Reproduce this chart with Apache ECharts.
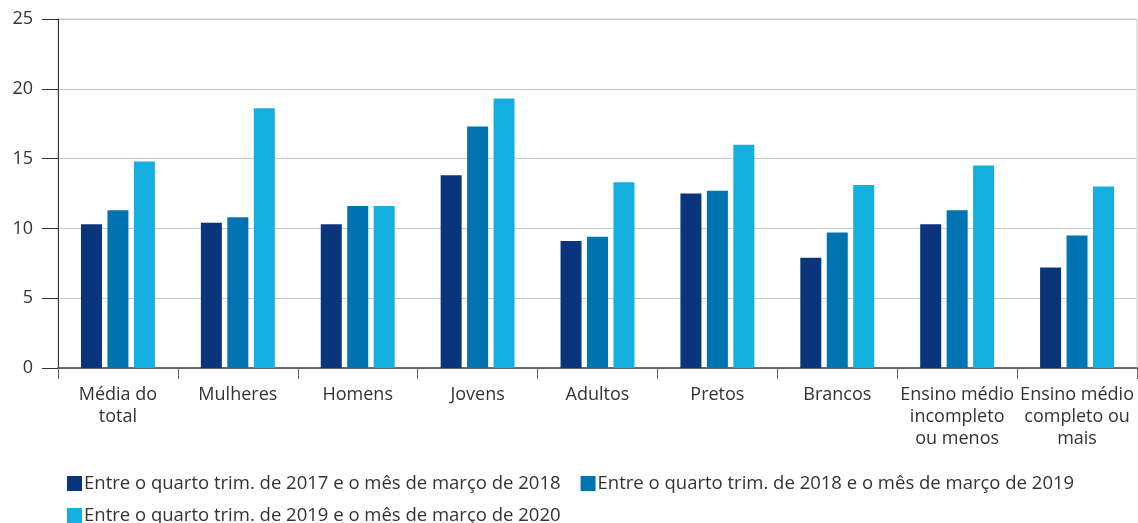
<!DOCTYPE html>
<html>
<head>
<meta charset="utf-8">
<script src="https://cdn.jsdelivr.net/npm/echarts@6/dist/echarts.min.js"></script>
<style>
html,body{margin:0;padding:0;background:#fff;}
#chart{width:1138px;height:523px;}
</style>
</head>
<body>
<div id="chart"></div>
<script>
const categories = ["Média do\ntotal", "Mulheres", "Homens", "Jovens", "Adultos", "Pretos", "Brancos", "Ensino médio\nincompleto\nou menos", "Ensino médio\ncompleto ou\nmais"];
const seriesNames = [
  "Entre o quarto trim. de 2017 e o mês de março de 2018",
  "Entre o quarto trim. de 2018 e o mês de março de 2019",
  "Entre o quarto trim. de 2019 e o mês de março de 2020"
];
const values2018 = [10.3, 10.4, 10.3, 13.8, 9.1, 12.5, 7.9, 10.3, 7.2];
const values2019 = [11.3, 10.8, 11.6, 17.3, 9.4, 12.7, 9.7, 11.3, 9.5];
const values2020 = [14.8, 18.6, 11.6, 19.3, 13.3, 16.0, 13.1, 14.5, 13.0];
const colors = ["#0a357c", "#0074b0", "#13afdf"];

const FONT = "Open Sans";
const FS = 18;
const chart = echarts.init(document.getElementById('chart'), null, {renderer: 'canvas'});
const dataSets = [values2018, values2019, values2020];
const legendBase = {
  left: 67, padding: 0,
  itemWidth: 15, itemHeight: 15, itemGap: 20,
  icon: 'rect',
  textStyle: {fontFamily: FONT, fontSize: 18.5, color: '#333', padding: [0, 0, 0, -3]}
};
chart.setOption({
  animation: false,
  textStyle: {fontFamily: FONT},
  grid: {left: 58, right: 1, top: 19, bottom: 155, show: true, borderColor: '#c8c8c8', borderWidth: 1},
  legend: [
    Object.assign({}, legendBase, {top: 474, data: seriesNames.slice(0, 2)}),
    Object.assign({}, legendBase, {top: 506, data: seriesNames.slice(2)})
  ],
  xAxis: {
    type: 'category', data: categories, boundaryGap: true,
    axisLine: {lineStyle: {color: '#444', width: 1.5}},
    axisTick: {show: true, length: 11, lineStyle: {color: '#666'}},
    axisLabel: {interval: 0, fontSize: FS, color: '#333', lineHeight: 22, margin: 16, fontFamily: FONT}
  },
  yAxis: {
    type: 'value', min: 0, max: 25, interval: 5,
    axisLine: {show: true, lineStyle: {color: '#333'}},
    axisTick: {show: true, length: 16, lineStyle: {color: '#333'}},
    axisLabel: {fontSize: FS, color: '#333', margin: 25, fontFamily: FONT},
    splitLine: {lineStyle: {color: '#c8c8c8'}}
  },
  series: dataSets.map((d, i) => ({
    name: seriesNames[i], type: 'bar', data: d,
    barWidth: 21, barGap: '26%',
    itemStyle: {color: colors[i]}
  }))
});
</script>
</body>
</html>
